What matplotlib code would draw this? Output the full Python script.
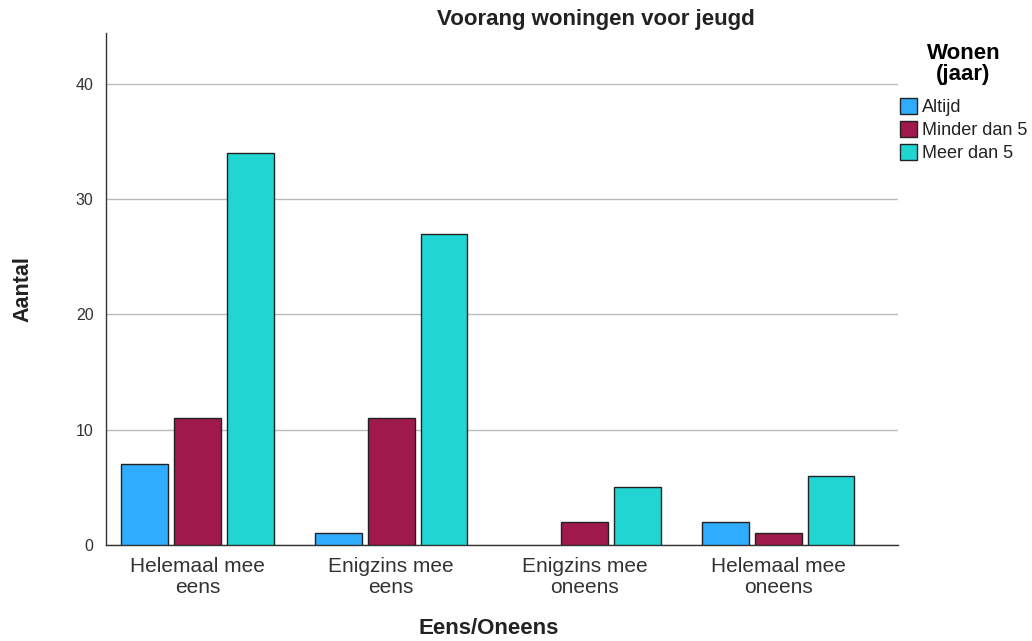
import matplotlib
matplotlib.use("Agg")
import matplotlib.pyplot as plt
import numpy as np

plt.rcParams["font.family"] = ["Liberation Sans", "DejaVu Sans"]

categories = ["Helemaal mee\neens", "Enigzins mee\neens", "Enigzins mee\noneens", "Helemaal mee\noneens"]
series_names = ["Altijd", "Minder dan 5", "Meer dan 5"]
altijd = [7, 1, 0, 2]
minder_dan_5 = [11, 11, 2, 1]
meer_dan_5 = [34, 27, 5, 6]
colors = ["#30ACFF", "#A0194C", "#21D6D2"]

W, H = 1032, 641
fig = plt.figure(figsize=(W / 100, H / 100), dpi=100)
ax = fig.add_axes([106 / W, (H - 545) / H, (898 - 106) / W, (545 - 33) / H])

x = np.arange(len(categories))
width = 0.242
step = 0.273
for i, (vals, name) in enumerate(zip([altijd, minder_dan_5, meer_dan_5], series_names)):
    bars = ax.bar(x + (i - 1) * step, vals, width, color=colors[i], edgecolor="#222222",
                  linewidth=1.0, label=name, zorder=3)
    for b, v in zip(bars, vals):
        if v == 0:
            b.set_linewidth(0)

ax.set_xlim(-0.474, 3.619)
ax.set_ylim(0, 44.4)
ax.set_yticks([0, 10, 20, 30, 40])
ax.set_xticks(x)
ax.set_xticklabels(categories, fontsize=15, color="#333333", linespacing=1.08)
ax.tick_params(axis="y", labelsize=11.5, colors="#333333", length=0, pad=9)
ax.tick_params(axis="x", length=0, pad=9)
ax.yaxis.grid(True, color="#BBBBBB", linewidth=1.0, zorder=0)
for s in ["top", "right"]:
    ax.spines[s].set_visible(False)
for s in ["left", "bottom"]:
    ax.spines[s].set_color("#333333")
    ax.spines[s].set_linewidth(1.0)

fig.text(489 / W, 1 - 629 / H, "Eens/Oneens", ha="center", va="center",
         fontsize=16, fontweight="bold", color="#222222")
fig.text(23 / W, 1 - 289 / H, "Aantal", ha="center", va="center", rotation=90,
         fontsize=15.5, fontweight="bold", color="#222222")
fig.text(596 / W, 1 - 19 / H, "Voorang woningen voor jeugd", ha="center", va="center",
         fontsize=16, fontweight="bold", color="#222222")

leg = fig.legend(loc="upper left", bbox_to_anchor=(900 / W, 1 - 43 / H), frameon=False,
                 title="Wonen\n(jaar)", fontsize=13, handlelength=0.95, handleheight=1.0,
                 handletextpad=0.25, labelspacing=0.28, borderaxespad=0, borderpad=0,
                 alignment="center")
leg.get_title().set_fontweight("bold")
leg.get_title().set_fontsize(16)
leg.get_title().set_linespacing(1.0)
leg.get_title().set_multialignment("center")
leg._legend_box.sep = 9
for t in leg.get_texts():
    t.set_color("#222222")

fig.savefig("out.png", dpi=100)
